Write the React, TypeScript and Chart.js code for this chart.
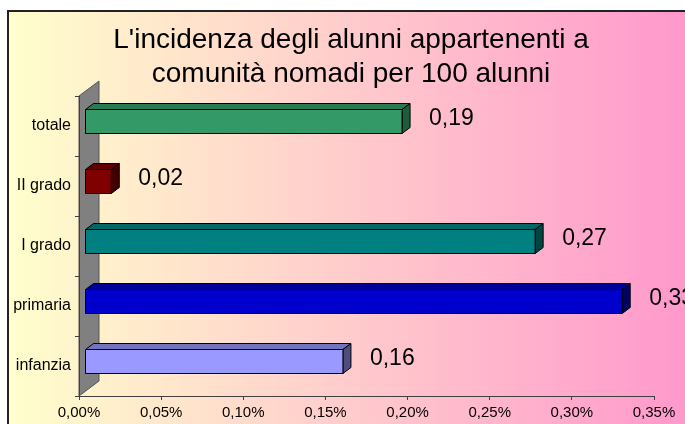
import React, { useEffect, useRef } from 'react';
import { Chart, registerables } from 'chart.js';

Chart.register(...registerables);

const categories = ['totale', 'II grado', 'I grado', 'primaria', 'infanzia'];
const values = [0.193, 0.016, 0.274, 0.327, 0.157];
const frontColors = ['#339966', '#800000', '#008080', '#0000CC', '#9999FF'];
const topColors = ['#287A52', '#600000', '#006666', '#000099', '#7373BF'];
const sideColors = ['#1E5C3D', '#400000', '#004444', '#000066', '#4D4D80'];
const titleLines = ["L'incidenza degli alunni appartenenti a", 'comunità nomadi per 100 alunni'];
const axisMin = 0;
const axisMax = 0.35;
const axisStep = 0.05;

const FONT = '"Liberation Sans", Arial, Helvetica, sans-serif';
const OX = 6; // bar offset inside the depth
const OY = -4.5;
const DX = 8; // bar depth
const DY = -6;
const WALL_DX = 20;
const WALL_DY = -15;

const fmt = (v: number) => v.toFixed(2).replace('.', ',');

const backgroundPlugin = {
  id: 'bg3d',
  beforeDraw(chart: any) {
    const { ctx, width, height, chartArea: a } = chart;
    ctx.save();
    ctx.fillStyle = '#ffffff';
    ctx.fillRect(0, 0, width, height);
    const g = ctx.createLinearGradient(8, 0, width, 0);
    g.addColorStop(0, '#FFFFCC');
    g.addColorStop(1, '#FF99CC');
    ctx.fillStyle = g;
    ctx.fillRect(8, 11, width - 8, height - 11);
    ctx.strokeStyle = '#222222';
    ctx.lineWidth = 2;
    ctx.beginPath();
    ctx.moveTo(8, height);
    ctx.lineTo(8, 11);
    ctx.lineTo(width, 11);
    ctx.stroke();

    // 3D wall
    ctx.fillStyle = '#808080';
    ctx.beginPath();
    ctx.moveTo(a.left, a.top);
    ctx.lineTo(a.left + WALL_DX, a.top + WALL_DY);
    ctx.lineTo(a.left + WALL_DX, a.bottom + WALL_DY);
    ctx.lineTo(a.left, a.bottom);
    ctx.closePath();
    ctx.fill();
    ctx.strokeStyle = '#555555';
    ctx.lineWidth = 1;
    ctx.stroke();

    // title
    ctx.fillStyle = '#000000';
    ctx.font = `28px ${FONT}`;
    ctx.textAlign = 'center';
    ctx.textBaseline = 'alphabetic';
    ctx.fillText(titleLines[0], 351, 48);
    ctx.fillText(titleLines[1], 351, 82);
    ctx.restore();
  },
};

const bars3dPlugin = {
  id: 'bars3d',
  afterDatasetsDraw(chart: any) {
    const { ctx } = chart;
    const meta = chart.getDatasetMeta(0);
    ctx.save();
    ctx.lineWidth = 1;
    ctx.strokeStyle = '#000000';
    const poly = (pts: number[][], color: string) => {
      ctx.beginPath();
      ctx.moveTo(pts[0][0], pts[0][1]);
      for (let k = 1; k < pts.length; k++) ctx.lineTo(pts[k][0], pts[k][1]);
      ctx.closePath();
      ctx.fillStyle = color;
      ctx.fill();
      ctx.stroke();
    };
    meta.data.forEach((bar: any, i: number) => {
      const p = bar.getProps(['x', 'y', 'base', 'height'], true);
      const x0 = p.base + OX;
      const x1 = p.x + OX;
      const yT = p.y - p.height / 2 + OY;
      const yB = p.y + p.height / 2 + OY;
      poly([[x0, yT], [x0 + DX, yT + DY], [x1 + DX, yT + DY], [x1, yT]], topColors[i]);
      poly([[x1, yT], [x1 + DX, yT + DY], [x1 + DX, yB + DY], [x1, yB]], sideColors[i]);
      poly([[x0, yT], [x1, yT], [x1, yB], [x0, yB]], frontColors[i]);

      ctx.fillStyle = '#000000';
      ctx.font = `23px ${FONT}`;
      ctx.textAlign = 'left';
      ctx.textBaseline = 'middle';
      ctx.fillText(fmt(values[i]), x1 + 27, p.y - 7);
    });
    ctx.restore();
  },
};

export default function App() {
  const ref = useRef<HTMLCanvasElement | null>(null);
  useEffect(() => {
    if (!ref.current) return;
    const chart = new Chart(ref.current, {
      type: 'bar',
      data: {
        labels: categories,
        datasets: [
          {
            data: values,
            backgroundColor: 'rgba(0,0,0,0)',
            borderWidth: 0,
            barPercentage: 0.4,
            categoryPercentage: 1.0,
          },
        ],
      },
      options: {
        indexAxis: 'y',
        responsive: false,
        animation: false,
        layout: { padding: { top: 96, left: 0, right: 31, bottom: 0 } },
        plugins: {
          legend: { display: false },
          title: { display: false },
          tooltip: { enabled: false },
        },
        scales: {
          x: {
            type: 'linear',
            min: axisMin,
            max: axisMax,
            afterFit: (s: any) => {
              s.height = 28;
            },
            ticks: {
              stepSize: axisStep,
              callback: (v: any) => fmt(Number(v)) + '%',
              font: { family: FONT, size: 15 },
              color: '#000000',
              padding: 4,
              maxRotation: 0,
            },
            grid: { drawOnChartArea: false, drawTicks: true, tickLength: 4, color: '#404040' },
            border: { color: '#404040' },
          },
          y: {
            afterFit: (s: any) => {
              s.width = 79;
            },
            ticks: { font: { family: FONT, size: 16 }, color: '#000000', padding: 4 },
            grid: { drawOnChartArea: false, drawTicks: true, tickLength: 4, color: '#404040', offset: true },
            border: { color: '#404040' },
          },
        },
      },
      plugins: [backgroundPlugin, bars3dPlugin],
    });
    return () => chart.destroy();
  }, []);
  return (
    <canvas
      ref={ref}
      width={685}
      height={424}
      style={{ position: 'absolute', left: 0, top: 0, width: 685, height: 424 }}
    />
  );
}
